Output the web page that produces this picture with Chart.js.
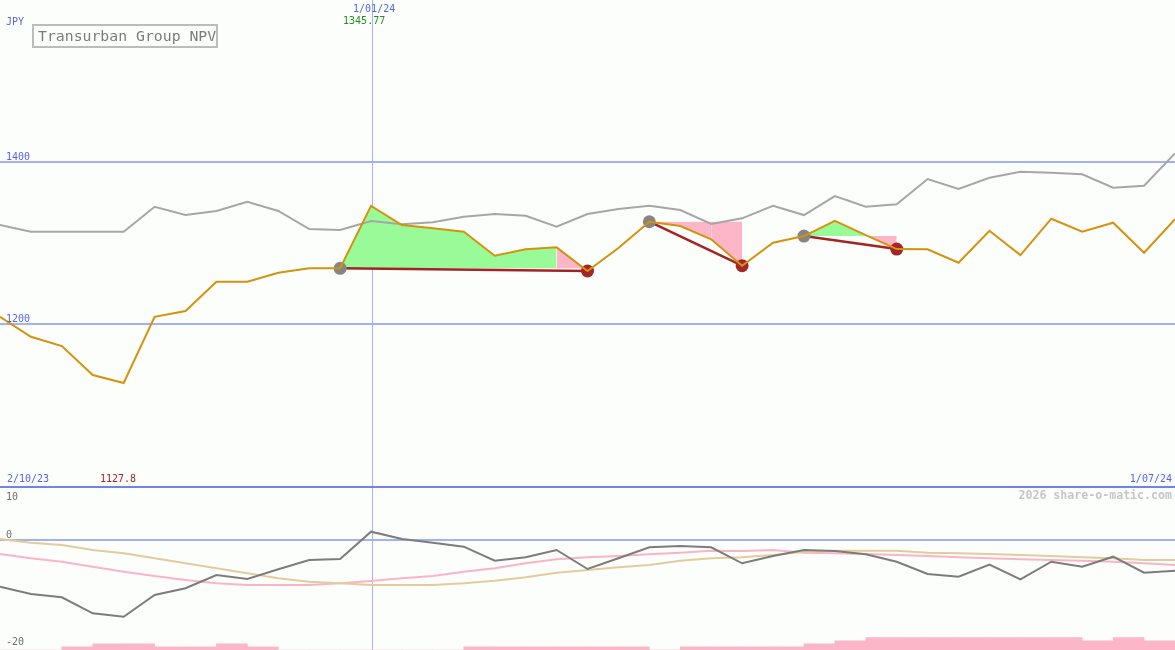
<!DOCTYPE html>
<html>
<head>
<meta charset="utf-8">
<script src="https://cdn.jsdelivr.net/npm/chart.js@4.4.0/dist/chart.umd.min.js"></script>
<style>
  html, body { margin: 0; padding: 0; background: #fcfefc; }
  #wrap { position: relative; width: 1175px; height: 650px; overflow: hidden; background: #fcfefc;
          font-family: "DejaVu Sans Mono", monospace; }
  #top { position: absolute; left: 0; top: 0; }
  #bot { position: absolute; left: 0; top: 488px; }
  .lbl { position: absolute; font-size: 10px; line-height: 10px; white-space: nowrap; }
  .blue { color: #5565e6; }
  .sub { color: #6e6e6e; }
  #legend { position: absolute; left: 32px; top: 24px; width: 186px; height: 24px; box-sizing: border-box;
            border: 2px solid #bcbcbc; }
  #legend span { position: absolute; left: 4px; top: 3px; font-size: 14.8px; line-height: 14.8px;
                 color: #7c7c7c; white-space: nowrap; }
  #credit { position: absolute; right: 3px; top: 490px; font-size: 11.6px; line-height: 11.6px;
            font-weight: bold; color: #c6c6c6; white-space: nowrap; }
</style>
</head>
<body>
<div id="wrap">
  <canvas id="top" width="1175" height="488"></canvas>
  <canvas id="bot" width="1175" height="162"></canvas>
  <div id="legend"><span>Transurban Group NPV</span></div>
  <div class="lbl blue" style="left:6px;top:17px">JPY</div>
  <div class="lbl blue" id="markDate" style="top:4px"></div>
  <div class="lbl" id="markVal" style="top:15.5px;color:#219121"></div>
  <div class="lbl blue" id="startDate" style="left:7px;top:474px"></div>
  <div class="lbl" id="minVal" style="left:100px;top:474px;color:#a32424"></div>
  <div class="lbl blue" id="endDate" style="right:3px;top:474px"></div>
  <div id="credit">2026 share-o-matic.com</div>
</div>
<script>
// weekly closes, 2/10/23 .. 1/07/24
const price = [1209.3, 1184.7, 1173.3, 1137.6, 1127.8, 1209.3, 1216.4, 1252.4, 1252.4, 1263.5,
               1268.9, 1268.9, 1345.77, 1322.1, 1318.1, 1313.9, 1284.4, 1292.3, 1294.7, 1265.6,
               1293.8, 1326.2, 1320.9, 1304.6, 1272.1, 1300.4, 1308.6, 1327.4, 1309.8, 1292.6,
               1292.3, 1275.8, 1315.1, 1285.2, 1329.9, 1313.9, 1325.0, 1288.1, 1329.2];
// comparison line (grey)
const compare = [1322.1, 1313.9, 1313.9, 1313.9, 1313.9, 1344.6, 1334.4, 1339.4, 1350.8, 1339.4,
                 1317.2, 1316.0, 1327.1, 1323.0, 1325.5, 1332.3, 1335.7, 1333.6, 1320.0, 1335.7,
                 1341.8, 1345.9, 1340.6, 1323.4, 1330.4, 1345.9, 1334.4, 1357.8, 1344.6, 1347.6,
                 1378.7, 1366.4, 1380.3, 1387.7, 1386.5, 1384.5, 1368.0, 1370.5, 1410.3];
// lower panel
const osc = [-8.67, -10.04, -10.66, -13.66, -14.3, -10.23, -8.97, -6.47, -7.22, -5.4,
             -3.66, -3.47, 1.65, 0.28, -0.41, -1.16, -3.79, -3.15, -1.78, -5.35,
             -3.34, -1.28, -1.03, -1.28, -4.28, -2.91, -1.78, -1.97, -2.59, -3.98,
             -6.29, -6.79, -4.54, -7.28, -3.98, -4.92, -3.04, -6.04, -5.67];
const pinkAvg = [-2.53, -3.34, -3.98, -4.92, -5.85, -6.66, -7.41, -8.03, -8.35, -8.35,
                 -8.35, -8.03, -7.6, -7.09, -6.66, -5.85, -5.22, -4.28, -3.53, -3.15,
                 -2.91, -2.59, -2.29, -1.91, -1.97, -1.78, -2.29, -2.4, -2.53, -2.72,
                 -2.91, -3.15, -3.34, -3.53, -3.66, -3.79, -3.98, -4.28, -4.6];
const tanAvg = [0.28, -0.41, -0.84, -1.78, -2.4, -3.34, -4.28, -5.22, -6.15, -7.09,
                -7.73, -8.03, -8.35, -8.35, -8.35, -8.03, -7.54, -6.9, -6.04, -5.53,
                -5.03, -4.6, -3.79, -3.34, -3.15, -2.72, -2.1, -1.91, -1.91, -1.91,
                -2.29, -2.4, -2.53, -2.72, -2.91, -3.15, -3.34, -3.66, -3.66];
// one value per week interval
const barLevel = [0, 0, 1, 2, 2, 1, 1, 2, 1, 0, 0, 0, 0, 0, 0, 1, 1, 1, 1,
                  1, 1, 0, 1, 1, 1, 1, 2, 3, 4, 4, 4, 4, 4, 4, 4, 3, 4, 3];
const buyIdx = [11, 21, 26];
const sellIdx = [19, 24, 29];
const mainGrid = [1400, 1200];
const subGrid = [0];
const subLabels = [10, 0, -20];
const markIdx = 12;
const startLabel = '2/10/23';
const markLabel = '1/01/24';
const endLabel = '1/07/24';

const GREEN = '#98fb98';
const PINK = '#fdb6c8';
const last = price.length - 1;

const pts = (arr, from, to) => {
  const out = [];
  for (let i = from; i <= to; i++) out.push({ x: i, y: arr[i] });
  return out;
};
const flat = (v, from, to) => {
  const out = [];
  for (let i = from; i <= to; i++) out.push({ x: i, y: v });
  return out;
};

// background guides: value lines, date marker, panel border
const guides = {
  id: 'guides',
  beforeDraw(chart, args, opts) {
    const { ctx, chartArea: a, scales } = chart;
    ctx.save();
    ctx.fillStyle = '#a3b1f2';
    opts.grid.forEach(v => {
      const y = Math.round(scales.y.getPixelForValue(v));
      ctx.fillRect(a.left, y - 1, a.right - a.left, 2);
    });
    const x = Math.round(scales.x.getPixelForValue(markIdx)) + 1;
    ctx.fillStyle = '#a4b4fa';
    ctx.fillRect(x, a.top, 1, a.bottom - a.top);
    if (opts.border) {
      ctx.fillStyle = '#7282ea';
      ctx.fillRect(a.left, a.bottom - 2, a.right - a.left, 2);
    }
    ctx.restore();
  }
};

const common = {
  responsive: false,
  animation: false,
  events: [],
  layout: { padding: 0, autoPadding: false },
  elements: { line: { tension: 0, fill: false }, point: { radius: 0, hoverRadius: 0 } },
};

// ---- main panel
const ds = [];
ds.push({ data: pts(price, 0, last), borderColor: '#d4920e', borderWidth: 2, order: 0 });
ds.push({ data: pts(compare, 0, last), borderColor: '#a6a6a6', borderWidth: 2, order: 4 });
buyIdx.forEach((b, k) => {
  const s = sellIdx[k];
  const lvl = price[b];
  let t = ds.length;
  ds.push({ data: flat(lvl, b, s - 1), borderWidth: 0, order: 9 });
  ds.push({ data: pts(price, b, s - 1), borderWidth: 0, order: 8,
            fill: { target: t, above: GREEN, below: PINK } });
  t = ds.length;
  ds.push({ data: flat(lvl, s - 1, s), borderWidth: 0, order: 9 });
  ds.push({ data: pts(price, s - 1, s), borderWidth: 0, order: 8,
            fill: { target: t, above: PINK, below: PINK } });
  ds.push({ data: [{ x: b, y: price[b] }, { x: s, y: price[s] }],
            borderColor: '#a32424', borderWidth: 2.5, order: 2 });
});
ds.push({ data: buyIdx.map(i => ({ x: i, y: price[i] })), showLine: false, order: 1,
          pointRadius: 6.5, pointBackgroundColor: '#858585', pointBorderWidth: 0 });
ds.push({ data: sellIdx.map(i => ({ x: i, y: price[i] })), showLine: false, order: 1,
          pointRadius: 6.5, pointBackgroundColor: '#a52626', pointBorderWidth: 0 });

const topChart = new Chart(document.getElementById('top'), {
  type: 'line',
  data: { datasets: ds },
  options: Object.assign({}, common, {
    plugins: { legend: { display: false }, tooltip: { enabled: false },
               filler: { drawTime: 'beforeDatasetsDraw' },
               guides: { grid: mainGrid, border: true } },
    scales: {
      x: { type: 'linear', min: 0, max: last, offset: false, display: false },
      y: { type: 'linear', min: 998.7, max: 1598.9, display: false }
    }
  }),
  plugins: [guides]
});

// ---- lower panel
const botChart = new Chart(document.getElementById('bot'), {
  type: 'line',
  data: {
    datasets: [
      { data: pts(osc, 0, last), borderColor: '#7c7c7c', borderWidth: 2, order: 0 },
      { data: pts(tanAvg, 0, last), borderColor: '#e2cc9c', borderWidth: 2, order: 1 },
      { data: pts(pinkAvg, 0, last), borderColor: '#fbb4c6', borderWidth: 2, order: 2 },
      { type: 'bar', data: barLevel.map((v, i) => ({ x: i + 0.5, y: v })), yAxisID: 'yb',
        backgroundColor: '#fbb6c8', borderWidth: 0, barPercentage: 1, categoryPercentage: 1, order: 5 }
    ]
  },
  options: Object.assign({}, common, {
    plugins: { legend: { display: false }, tooltip: { enabled: false },
               guides: { grid: subGrid, border: false } },
    scales: {
      x: { type: 'linear', min: 0, max: last, offset: false, display: false },
      y: { type: 'linear', min: -20.55, max: 9.85, display: false },
      yb: { type: 'linear', min: 0, max: 52.3, display: false }
    }
  }),
  plugins: [guides]
});

// ---- text labels placed from the scales
const wrap = document.getElementById('wrap');
function label(text, left, top, cls) {
  const d = document.createElement('div');
  d.className = 'lbl ' + cls;
  d.style.left = left + 'px';
  d.style.top = top + 'px';
  d.textContent = text;
  wrap.appendChild(d);
}
mainGrid.forEach(v => label(String(v), 6, topChart.scales.y.getPixelForValue(v) - 10.2, 'blue'));
subLabels.forEach(v => {
  const y = 488 + botChart.scales.y.getPixelForValue(v);
  label(String(v), 6, Math.max(y - 10, 492), 'sub');
});

const mx = topChart.scales.x.getPixelForValue(markIdx);
const md = document.getElementById('markDate');
md.textContent = markLabel;
md.style.left = (mx - 18) + 'px';
const mv = document.getElementById('markVal');
mv.textContent = price[markIdx].toFixed(2);
mv.style.left = (mx - 28) + 'px';
document.getElementById('startDate').textContent = startLabel;
document.getElementById('endDate').textContent = endLabel;
document.getElementById('minVal').textContent = String(Math.min.apply(null, price));
</script>
</body>
</html>
